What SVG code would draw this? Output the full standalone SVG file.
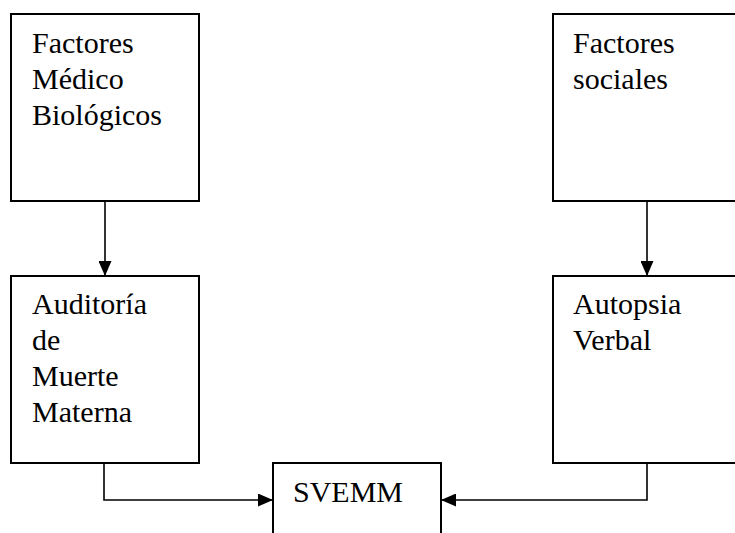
<svg xmlns="http://www.w3.org/2000/svg" width="735" height="533" viewBox="0 0 735 533">
  <style>
    .box { fill: #ffffff; stroke: #000000; stroke-width: 2; }
    .lbl { font-size: 30px; fill: #000000; }
    .wire { fill: none; stroke: #000000; stroke-width: 1.6; }
  </style>
  <defs>
    <marker id="arrow" viewBox="0 0 15 13" refX="15" refY="6.5" markerWidth="15" markerHeight="13" markerUnits="userSpaceOnUse" orient="auto">
      <path d="M0,0 L15,6.5 L0,13 Z" fill="#000000"/>
    </marker>
  </defs>

  <g id="connectors">
    <line class="wire" x1="105" y1="201" x2="105" y2="276" marker-end="url(#arrow)"/>
    <line class="wire" x1="647" y1="201" x2="647" y2="276" marker-end="url(#arrow)"/>
    <polyline class="wire" points="104,463 104,500 273,500" marker-end="url(#arrow)"/>
    <polyline class="wire" points="647,463 647,500 441,500" marker-end="url(#arrow)"/>
  </g>

  <g font-family="'Liberation Serif', 'Times New Roman', 'DejaVu Serif', serif">
    <g id="factores-medico-biologicos">
      <rect class="box" x="11" y="14" width="188" height="187"/>
      <text class="lbl" x="32" y="53">Factores</text>
      <text class="lbl" x="32" y="89">Médico</text>
      <text class="lbl" x="32" y="125">Biológicos</text>
    </g>

    <g id="factores-sociales">
      <rect class="box" x="553" y="14" width="200" height="187"/>
      <text class="lbl" x="573" y="53">Factores</text>
      <text class="lbl" x="573" y="89">sociales</text>
    </g>

    <g id="auditoria">
      <rect class="box" x="11" y="276" width="188" height="187"/>
      <text class="lbl" x="32" y="314">Auditoría</text>
      <text class="lbl" x="32" y="350">de</text>
      <text class="lbl" x="32" y="386">Muerte</text>
      <text class="lbl" x="32" y="422">Materna</text>
    </g>

    <g id="autopsia-verbal">
      <rect class="box" x="553" y="276" width="200" height="187"/>
      <text class="lbl" x="573" y="314">Autopsia</text>
      <text class="lbl" x="573" y="350">Verbal</text>
    </g>

    <g id="svemm">
      <rect class="box" x="273" y="463" width="168" height="90"/>
      <text class="lbl" x="293" y="502">SVEMM</text>
    </g>
  </g>
</svg>
